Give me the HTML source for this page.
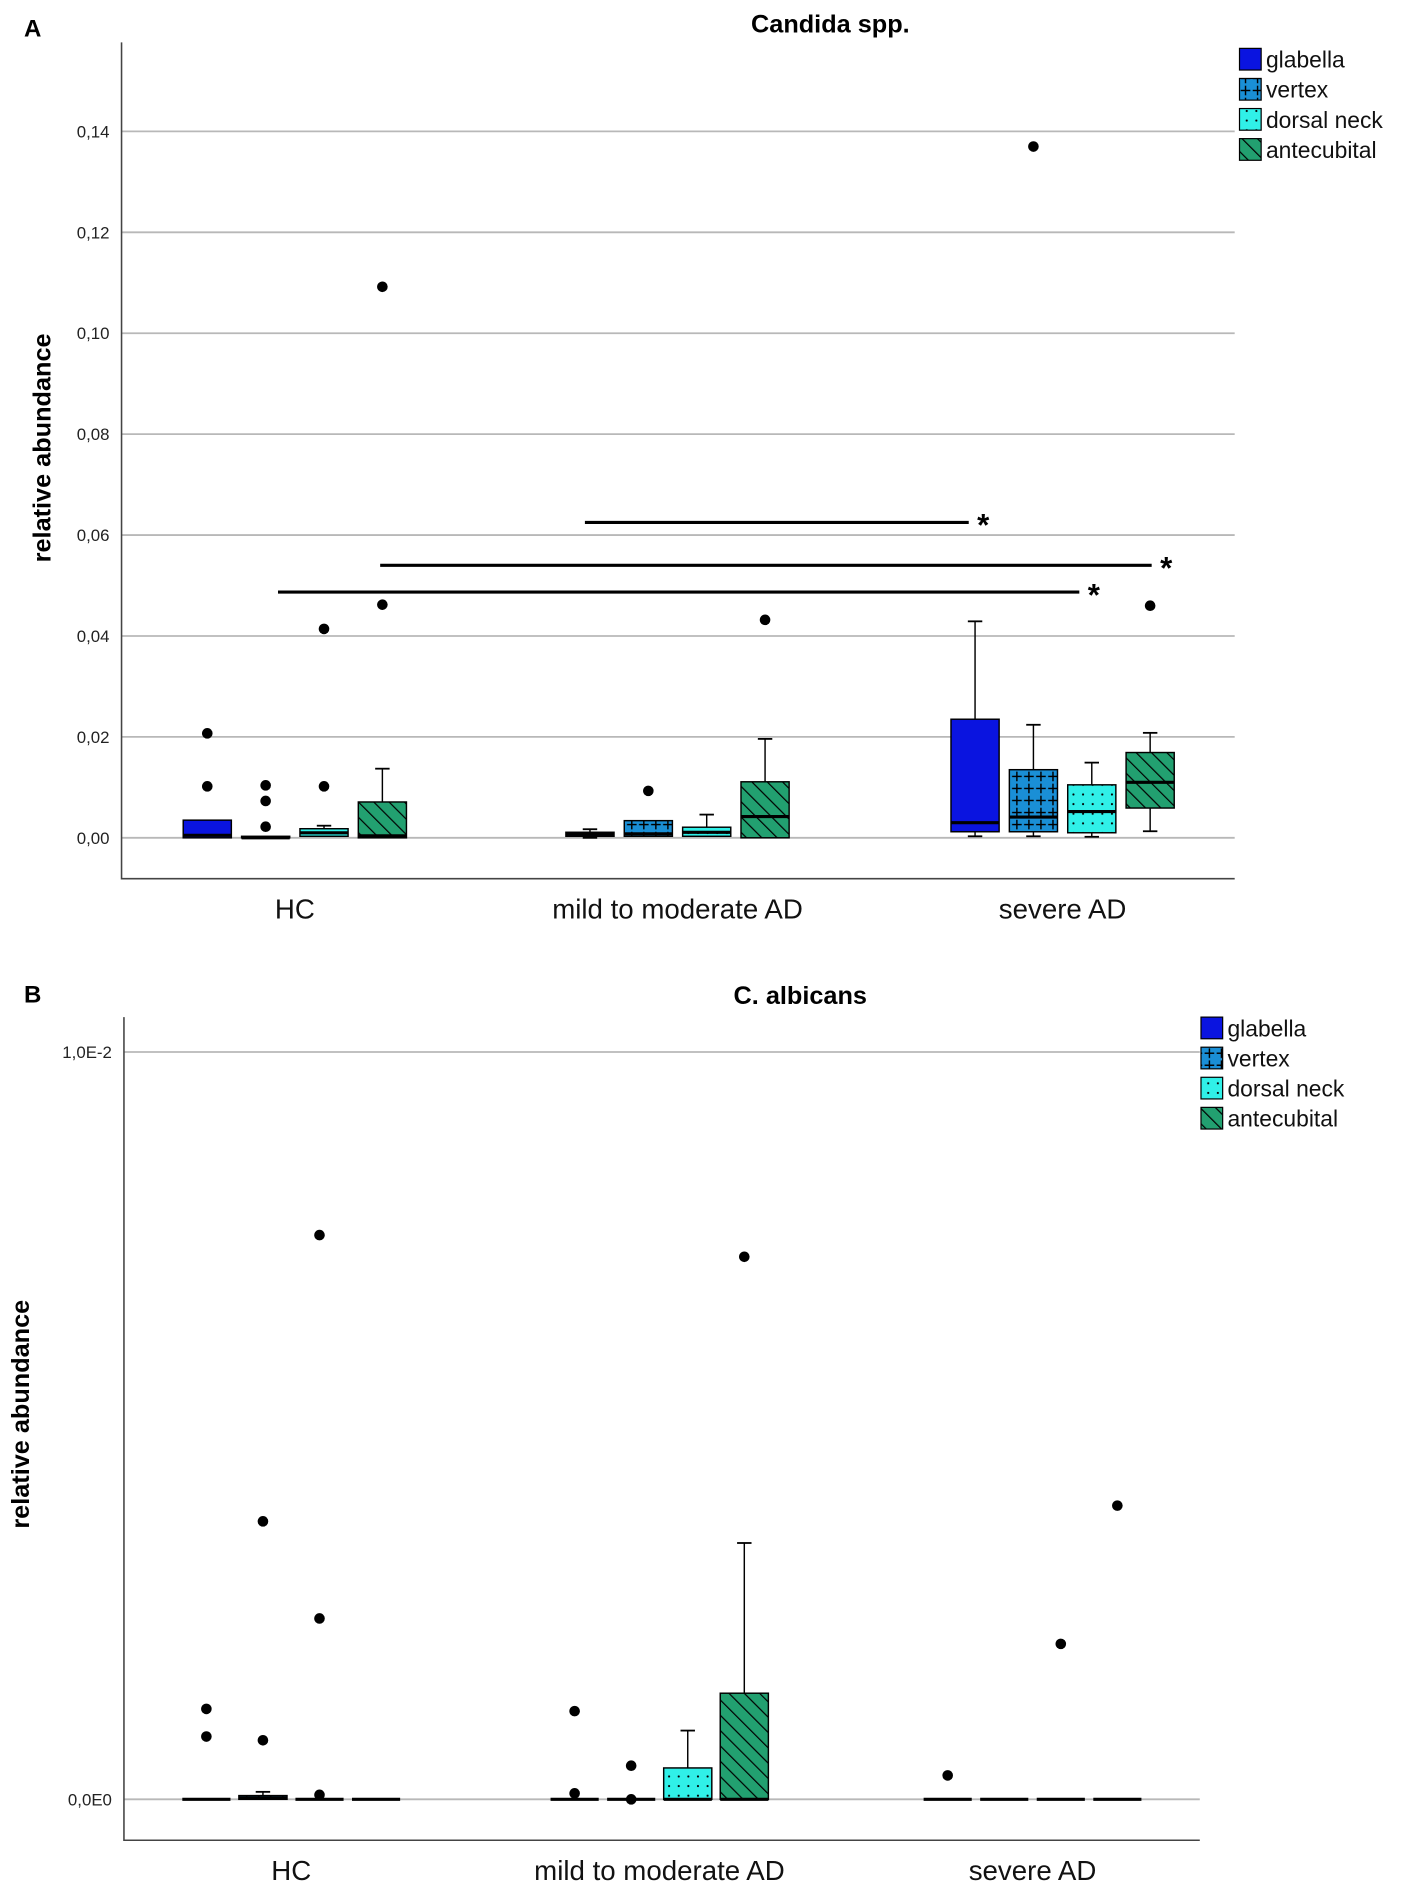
<!DOCTYPE html>
<html><head><meta charset="utf-8"><style>
html,body{margin:0;padding:0;background:#fff;}
svg{display:block;font-family:"Liberation Sans",sans-serif;}
</style></head><body>
<svg id="chart" width="1414" height="1885" viewBox="0 0 1175 1566" xmlns="http://www.w3.org/2000/svg">
<defs>
<pattern id="p-vertex" width="10" height="10" patternUnits="userSpaceOnUse"><rect width="10" height="10" fill="#1a8fd6"/><path d="M5 1V9M1 5H9" stroke="#000" stroke-width="1.2"/></pattern>
<pattern id="p-neck" width="8" height="8" patternUnits="userSpaceOnUse"><rect width="8" height="8" fill="#30f0e8"/><circle cx="4" cy="4" r="0.9" fill="#000"/></pattern>
<pattern id="p-ante" width="9" height="9" patternUnits="userSpaceOnUse" patternTransform="rotate(-45)"><rect width="9" height="9" fill="#22a070"/><path d="M0 0V9" stroke="#000" stroke-width="2"/></pattern>
</defs>
</svg>
<script>
const categories = ["HC","mild to moderate AD","severe AD"];
const sites = ["glabella","vertex","dorsal neck","antecubital"];
const fills = ["#0a14e0","url(#p-vertex)","url(#p-neck)","url(#p-ante)"];
// Panel A stats per [category][site]: [low, q1, median, q3, high]
const statsA = [
 [[0,0,0.0005,0.0035,0.0035],[0,0,0,0.0003,0.0003],[0.0003,0.0003,0.001,0.0018,0.0024],[0,0,0.0004,0.0071,0.0137]],
 [[0,0.0003,0.0007,0.0011,0.0017],[0.0003,0.0003,0.0008,0.0034,0.0034],[0.0003,0.0003,0.0011,0.0021,0.0046],[0,0,0.0042,0.0111,0.0196]],
 [[0.0003,0.0012,0.003,0.0235,0.0429],[0.0003,0.0012,0.0041,0.0135,0.0224],[0.0002,0.001,0.0052,0.0105,0.0149],[0.0013,0.0059,0.011,0.0169,0.0208]]
];
const outliersA = [
 [[0.0207,0.0102],[0.0104,0.0073,0.0022],[0.0102,0.0414],[0.0462,0.1092]],
 [[],[0.0093],[],[0.0432]],
 [[],[0.137],[],[0.046]]
];
const ticksA = [0,0.02,0.04,0.06,0.08,0.10,0.12,0.14];
const tickLabelsA = ["0,00","0,02","0,04","0,06","0,08","0,10","0,12","0,14"];
// significance: value, from (category units), to (category units), label
const sigA = [[0.0625,0.758,1.761,"*"],[0.054,0.223,2.239,"*"],[0.0487,-0.044,2.05,"*"]];
// Panel B
const statsB = [
 [[0,0,0,0,0],[0,0,0.00002,0.00005,0.0001],[0,0,0,0,0],[0,0,0,0,0]],
 [[0,0,0,0,0],[0,0,0,0,0],[0,0,0,0.00042,0.00092],[0,0,0,0.00142,0.00343]],
 [[0,0,0,0,0],[0,0,0,0,0],[0,0,0,0,0],[0,0,0,0,0]]
];
const outliersB = [
 [[0.00084,0.00121],[0.00079,0.00372],[0.00006,0.00242,0.00755],[]],
 [[0.00008,0.00118],[0,0.00045],[],[0.00726]],
 [[0.00032],[],[0.00208],[0.00393]]
];
const ticksB = [0,0.01];
const tickLabelsB = ["0,0E0","1,0E-2"];

const svg = document.getElementById('chart');
const NS = "http://www.w3.org/2000/svg";
function mk(tag, attrs, parent, text){
  const e = document.createElementNS(NS, tag);
  for (const k in attrs) e.setAttribute(k, attrs[k]);
  if (text !== undefined) e.textContent = text;
  (parent || svg).appendChild(e);
  return e;
}
function panel(p){
  const g = mk('g', {});
  
  
  const y = v => p.y0 - v * p.ppu;
  const x = (c, s) => p.cx[c] + (s - 1.5) * p.step;
  const catX = u => p.cx[0] + u * (p.cx[1] - p.cx[0]);
  const lbl = mk('text', {x:20, y:p.letterY, 'font-size':20, 'font-weight':'bold'}, g, p.letter);
  
  
  const t = mk('text', {x:p.titleX, y:p.titleY, 'font-size':21, 'font-weight':'bold', 'text-anchor':'middle'}, g, p.title);
  
  
  p.ticks.forEach((v, i) => {
    const gl = mk('line', {x1:p.ax, x2:p.ax2, y1:y(v), y2:y(v), stroke:'#b8b8b8', 'stroke-width':1.5}, g);
    
    
    const tl = mk('text', {x:p.ax - 10, y:y(v) + 5, 'font-size':14, 'text-anchor':'end', fill:'#222'}, g, p.tickLabels[i]);
    
    
  });
  const axes = mk('path', {d:`M${p.ax} ${p.axTop}V${p.axBot}H${p.ax2}`, fill:'none', stroke:'#444', 'stroke-width':1.3}, g);
  
  
  const yt = mk('text', {transform:`translate(${p.ytX},${p.ytY}) rotate(-90)`, 'font-size':21, 'font-weight':'bold', 'text-anchor':'middle'}, g, 'relative abundance');
  
  
  categories.forEach((c, ci) => {
    const cl = mk('text', {x:p.cx[ci], y:p.catY, 'font-size':23, 'text-anchor':'middle', fill:'#111'}, g, c);
    
    
    sites.forEach((s, si) => {
      const [lo, q1, med, q3, hi] = p.stats[ci][si];
      const xc = x(ci, si), w = p.bw;
      const bg = mk('g', {}, g);
      
      
      if (hi > q3) {
        mk('line', {x1:xc, x2:xc, y1:y(q3), y2:y(hi), stroke:'#000', 'stroke-width':1.2}, bg);
        mk('line', {x1:xc - 6, x2:xc + 6, y1:y(hi), y2:y(hi), stroke:'#000', 'stroke-width':1.5}, bg);
      }
      if (lo < q1) {
        mk('line', {x1:xc, x2:xc, y1:y(q1), y2:y(lo), stroke:'#000', 'stroke-width':1.2}, bg);
        mk('line', {x1:xc - 6, x2:xc + 6, y1:y(lo), y2:y(lo), stroke:'#000', 'stroke-width':1.5}, bg);
      }
      const h = Math.max(y(q1) - y(q3), 0);
      if (h > 1) mk('rect', {x:xc - w/2, y:y(q3), width:w, height:h, fill:fills[si], stroke:'#000', 'stroke-width':1.2}, bg);
      mk('line', {x1:xc - w/2, x2:xc + w/2, y1:y(med), y2:y(med), stroke:'#000', 'stroke-width':2.6}, bg);
      p.outliers[ci][si].forEach(v => {
        const o = mk('circle', {cx:xc, cy:y(v), r:4.4, fill:'#000'}, g);
        
        
      });
    });
  });
  (p.sig || []).forEach(sg => {
    const [v, a, b, lab] = sg;
    const xa = catX(a), xb = catX(b);
    const sl = mk('line', {x1:xa, x2:xb, y1:y(v), y2:y(v), stroke:'#000', 'stroke-width':2.6}, g);
    
    
    const st = mk('text', {x:xb + 7, y:y(v) + 11, 'font-size':26, 'font-weight':'bold'}, g, lab);
    
    
  });
  sites.forEach((s, si) => {
    const ly = p.legY + si * 25;
    const le = mk('g', {}, g);
    
    
    mk('rect', {x:p.legX, y:ly, width:18, height:18, fill:fills[si], stroke:'#000', 'stroke-width':1}, le);
    mk('text', {x:p.legX + 22, y:ly + 16, 'font-size':19, fill:'#111'}, le, s);
  });
}
panel({id:'panel-a-candida', letter:'A', letterY:30, title:'Candida spp.', titleX:690, titleY:27,
  y0:696, ppu:4193, ax:101, ax2:1026, axTop:35, axBot:730, ticks:ticksA, tickLabels:tickLabelsA,
  ytX:42, ytY:372, cx:[245,563,883], step:48.5, bw:40, catY:763, stats:statsA, outliers:outliersA,
  sig:sigA, legX:1030, legY:40});
panel({id:'panel-b-albicans', letter:'B', letterY:833, title:'C. albicans', titleX:665, titleY:834,
  y0:1495, ppu:62100, ax:103, ax2:997, axTop:845, axBot:1529, ticks:ticksB, tickLabels:tickLabelsB,
  ytX:24, ytY:1175, cx:[242,548,858], step:47, bw:40, catY:1562, stats:statsB, outliers:outliersB,
  sig:[], legX:998, legY:845});
</script>
</body></html>
